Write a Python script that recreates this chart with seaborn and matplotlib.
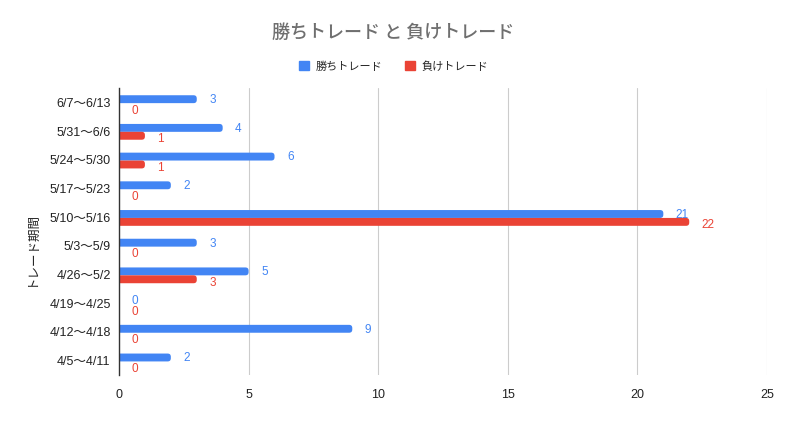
import matplotlib
matplotlib.use("Agg")
import matplotlib.pyplot as plt
import seaborn as sns
import pandas as pd
from matplotlib.patches import Patch, FancyBboxPatch

periods = ["6/7〜6/13", "5/31〜6/6", "5/24〜5/30", "5/17〜5/23", "5/10〜5/16",
           "5/3〜5/9", "4/26〜5/2", "4/19〜4/25", "4/12〜4/18", "4/5〜4/11"]
wins = [3, 4, 6, 2, 21, 3, 5, 0, 9, 2]
losses = [0, 1, 1, 0, 22, 0, 3, 0, 0, 0]
series_names = ["勝ちトレード", "負けトレード"]
colors = ["#4285F4", "#EA4335"]
xticks = [0, 5, 10, 15, 20, 25]

sns.set_theme(style="white")
plt.rcParams["font.family"] = ["Liberation Sans", "Noto Sans CJK JP", "DejaVu Sans"]

df = pd.DataFrame({
    "period": periods * 2,
    "value": wins + losses,
    "series": [series_names[0]] * len(periods) + [series_names[1]] * len(periods),
})

fig = plt.figure(figsize=(7.87, 4.23), dpi=100)
ax = fig.add_axes([0.1512, 0.1135, 0.8234, 0.6785])
sns.barplot(data=df, y="period", x="value", hue="series", orient="h",
            palette=colors, width=0.55, ax=ax, legend=False, saturation=1)
ax.set_xlim(0, 25)

# pixel scales for rounding
ax_w_px = 0.8234 * 787
ax_h_px = 0.6785 * 423
xpp = 25 / ax_w_px
ypp = len(periods) / ax_h_px
r = 3.2 * xpp

for cont, col, dy in zip(ax.containers, colors, [-0.6, -2.6]):
    for bar in cont:
        w = bar.get_width()
        y0 = bar.get_y()
        h = bar.get_height()
        bar.set_visible(False)
        y0s = y0 + 0.8 * ypp
        fb = FancyBboxPatch((-r, y0s), w + r, h,
                            boxstyle=f"round,pad=0,rounding_size={r}",
                            mutation_aspect=ypp / xpp,
                            facecolor=col, edgecolor="none", zorder=3)
        ax.add_patch(fb)
        ax.annotate(f"{int(round(w))}", (w, y0s + h / 2), xytext=(9, dy),
                    textcoords="offset points", ha="left", va="center",
                    color=col, fontsize=8.5)

ax.set_xticks(xticks)
ax.set_xticklabels([str(t) for t in xticks], fontsize=9, color="#222222")
ax.tick_params(axis="y", labelsize=9, labelcolor="#222222", length=0, pad=6)
ax.tick_params(axis="x", length=0, pad=10)
ax.grid(axis="x", color="#cccccc", linewidth=0.8)
ax.set_axisbelow(True)
for s in ["top", "right", "bottom"]:
    ax.spines[s].set_visible(False)
ax.spines["left"].set_color("#333333")
ax.spines["left"].set_linewidth(1)
ax.spines["left"].set_zorder(5)
ax.set_xlabel("")
ax.set_ylabel("トレード期間", fontsize=9, color="#222222")
ax.yaxis.set_label_coords(-0.126, 0.44)

fig.text(0.5, 0.922, "勝ちトレード と 負けトレード", ha="center", va="center",
         fontsize=13, color="#6f6f6f", family=["Noto Sans CJK JP"], fontweight="medium")

handles = [Patch(facecolor=c, edgecolor=c) for c in colors]
fig.legend(handles, series_names, loc="center", bbox_to_anchor=(0.5, 0.843), ncol=2,
           frameon=False, fontsize=8, handlelength=0.9, handleheight=0.9,
           columnspacing=2.0, handletextpad=0.6)

fig.savefig("out.png", dpi=100)
